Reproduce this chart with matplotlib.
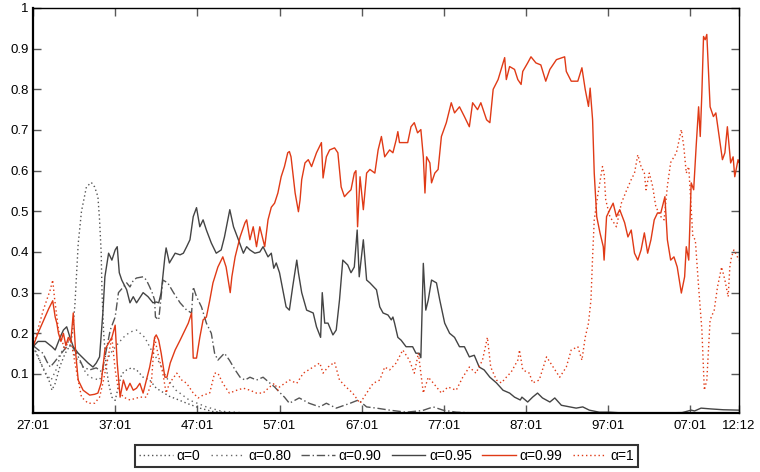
import matplotlib.pyplot as plt

# values (x = year + month fraction)
yr_a0 = [1927.0, 1927.6, 1928.3, 1929.1, 1929.3, 1929.7, 1930.3, 1930.9, 1931.5, 1931.8, 1932.1, 1932.5, 1932.9,
         1933.5, 1934.1, 1934.5, 1934.9, 1935.1, 1935.3, 1935.4, 1935.6, 1935.9, 1936.2, 1936.6, 1937.0, 1937.4,
         1937.8, 1938.4, 1939.0, 1939.6, 1940.4, 1941.2, 1942.0, 1942.8, 1943.6, 1944.5, 1945.7, 1947.3, 1948.8,
         1951.0, 1960.0, 2012.92]
a0 = [0.167, 0.142, 0.11, 0.077, 0.06, 0.077, 0.12, 0.15, 0.17, 0.2, 0.27, 0.42, 0.5,
      0.56, 0.571, 0.56, 0.536, 0.479, 0.397, 0.30, 0.2, 0.12, 0.077, 0.043, 0.035, 0.07,
      0.10, 0.11, 0.115, 0.11, 0.092, 0.085, 0.065, 0.055, 0.045, 0.038, 0.028, 0.016, 0.008,
      0.004, 0.002, 0.002]

yr_a80 = [1927.0, 1927.5, 1928.0, 1928.6, 1929.2, 1929.8, 1930.4, 1931.1, 1931.6, 1932.2, 1932.8, 1933.5, 1934.2,
          1935.1, 1935.7, 1936.4, 1937.4, 1938.0, 1938.8, 1939.6, 1940.6, 1941.4, 1942.4, 1943.2, 1944.4, 1946.0,
          1948.1, 1950.0, 1953.0, 1960.0, 2012.92]
a80 = [0.167, 0.15, 0.125, 0.10, 0.085, 0.11, 0.15, 0.183, 0.17, 0.14, 0.127, 0.10, 0.09,
       0.085, 0.117, 0.15, 0.176, 0.19, 0.203, 0.208, 0.19, 0.159, 0.127, 0.092, 0.06, 0.036,
       0.019, 0.008, 0.004, 0.002, 0.002]

yr_a90 = [1927.0, 1927.6, 1928.2, 1928.7, 1929.1, 1929.6, 1930.3, 1931.1, 1931.7, 1932.3, 1933.1, 1933.9, 1934.7,
          1935.4, 1936.0, 1936.4, 1937.0, 1937.4, 1938.0, 1938.4, 1938.8, 1939.2, 1939.6, 1940.4, 1940.8, 1941.2,
          1941.5, 1941.8, 1941.9, 1942.3, 1942.8, 1943.4, 1944.1, 1944.9, 1945.7, 1946.3, 1946.5, 1946.9, 1947.5,
          1948.1, 1948.7, 1949.1, 1949.5, 1950.3, 1950.9, 1951.6, 1952.2, 1952.8, 1953.4, 1954.2, 1955.0, 1955.8,
          1956.4, 1957.0, 1957.6, 1958.2, 1959.4, 1960.6, 1961.9, 1962.7, 1963.9, 1965.6, 1966.6, 1967.6, 1968.8,
          1970.4, 1972.4, 1974.4, 1975.7, 1976.9, 1978.5, 1981.0, 1990.0, 2012.92]
a90 = [0.17, 0.16, 0.151, 0.13, 0.117, 0.129, 0.147, 0.167, 0.17, 0.151, 0.117, 0.11, 0.115,
       0.105, 0.167, 0.208, 0.24, 0.30, 0.314, 0.324, 0.314, 0.33, 0.336, 0.339, 0.331, 0.314,
       0.30, 0.282, 0.24, 0.233, 0.331, 0.324, 0.30, 0.275, 0.257, 0.25, 0.314, 0.29, 0.265,
       0.225, 0.20, 0.151, 0.134, 0.151, 0.134, 0.11, 0.092, 0.085, 0.092, 0.085, 0.092, 0.078,
       0.068, 0.055, 0.043, 0.028, 0.041, 0.028, 0.019, 0.028, 0.016, 0.028, 0.036, 0.019, 0.016,
       0.011, 0.006, 0.01, 0.019, 0.011, 0.006, 0.004, 0.003, 0.003]

yr_a95 = [1927.0, 1927.6, 1928.5, 1929.3, 1929.7, 1930.3, 1930.7, 1931.1, 1931.5, 1931.9, 1932.5, 1933.1, 1933.7,
          1934.3, 1934.7, 1935.1, 1935.5, 1935.75, 1936.2, 1936.6, 1937.0, 1937.25, 1937.5, 1937.8, 1938.4, 1938.8,
          1939.2, 1939.6, 1940.4, 1941.0, 1941.6, 1942.0, 1942.3, 1942.6, 1943.05, 1943.2, 1943.6, 1944.3, 1944.9,
          1945.3, 1945.7, 1946.1, 1946.5, 1946.9, 1947.3, 1947.7, 1948.1, 1948.7, 1949.3, 1949.9, 1950.3, 1950.7,
          1950.95, 1951.4, 1952.0, 1952.6, 1953.0, 1953.4, 1954.0, 1954.6, 1955.0, 1955.6, 1956.0, 1956.3, 1956.6,
          1957.0, 1957.4, 1957.8, 1958.2, 1958.6, 1959.1, 1959.3, 1959.7, 1960.3, 1961.1, 1961.5, 1962.0, 1962.2,
          1962.5, 1962.9, 1963.5, 1963.9, 1964.3, 1964.7, 1965.3, 1965.7, 1966.1, 1966.45, 1966.7, 1967.2, 1967.6,
          1968.0, 1968.8, 1969.2, 1969.6, 1970.2, 1970.6, 1970.8, 1971.0, 1971.4, 1971.8, 1972.4, 1973.2, 1973.6,
          1974.0, 1974.2, 1974.5, 1974.8, 1975.1, 1975.5, 1976.1, 1976.5, 1977.1, 1977.7, 1978.3, 1978.9, 1979.5,
          1980.1, 1980.7, 1981.3, 1981.9, 1982.6, 1983.4, 1984.2, 1985.0, 1985.6, 1986.3, 1986.5, 1987.2, 1987.8,
          1988.4, 1989.0, 1989.9, 1990.5, 1991.3, 1992.3, 1993.1, 1993.9, 1994.7, 1995.9, 1997.2, 1998.8, 2003.0,
          2006.0, 2007.1, 2007.5, 2008.3, 2009.5, 2011.0, 2012.92]
a95 = [0.167, 0.18, 0.18, 0.167, 0.159, 0.19, 0.208, 0.216, 0.19, 0.167, 0.151, 0.139, 0.127,
       0.117, 0.127, 0.142, 0.25, 0.339, 0.397, 0.38, 0.405, 0.413, 0.349, 0.331, 0.307, 0.275,
       0.29, 0.275, 0.30, 0.29, 0.275, 0.277, 0.275, 0.30, 0.388, 0.41, 0.373, 0.397, 0.393,
       0.397, 0.413, 0.43, 0.487, 0.509, 0.462, 0.479, 0.454, 0.422, 0.397, 0.405, 0.437, 0.479,
       0.504, 0.462, 0.43, 0.397, 0.413, 0.405, 0.397, 0.40, 0.413, 0.388, 0.397, 0.36, 0.373,
       0.349, 0.307, 0.265, 0.257, 0.314, 0.38, 0.349, 0.30, 0.257, 0.25, 0.216, 0.19, 0.30,
       0.225, 0.225, 0.196, 0.208, 0.282, 0.38, 0.368, 0.349, 0.363, 0.454, 0.339, 0.43, 0.331,
       0.324, 0.307, 0.265, 0.25, 0.245, 0.233, 0.24, 0.225, 0.19, 0.183, 0.167, 0.167, 0.151,
       0.151, 0.14, 0.372, 0.257, 0.282, 0.331, 0.324, 0.282, 0.225, 0.20, 0.19, 0.167, 0.167,
       0.142, 0.146, 0.117, 0.11, 0.092, 0.078, 0.06, 0.053, 0.043, 0.036, 0.043, 0.031, 0.043,
       0.053, 0.041, 0.031, 0.041, 0.023, 0.019, 0.016, 0.019, 0.011, 0.006, 0.006, 0.004, 0.004,
       0.005, 0.011, 0.009, 0.016, 0.014, 0.012, 0.011]

yr_a99 = [1927.0, 1927.6, 1928.25, 1928.9, 1929.4, 1929.7, 1929.9, 1930.1, 1930.4, 1930.7, 1931.0, 1931.3, 1931.6,
          1931.9, 1932.2, 1932.5, 1933.1, 1933.9, 1934.5, 1934.9, 1935.3, 1935.75, 1936.2, 1936.6, 1937.0, 1937.25,
          1937.6, 1938.0, 1938.4, 1938.8, 1939.2, 1939.6, 1940.0, 1940.4, 1940.8, 1941.2, 1941.6, 1941.8, 1942.0,
          1942.3, 1942.6, 1943.05, 1943.3, 1943.7, 1944.3, 1944.9, 1945.3, 1945.9, 1946.3, 1946.5, 1946.9, 1947.3,
          1947.7, 1948.1, 1948.5, 1948.9, 1949.5, 1950.1, 1950.5, 1951.0, 1951.2, 1951.6, 1952.2, 1952.8, 1953.0,
          1953.4, 1953.8, 1954.2, 1954.6, 1955.2, 1955.6, 1956.0, 1956.4, 1956.8, 1957.2, 1957.6, 1958.0, 1958.2,
          1958.4, 1958.9, 1959.3, 1959.5, 1959.7, 1960.1, 1960.5, 1960.9, 1961.5, 1962.1, 1962.3, 1962.7, 1963.1,
          1963.7, 1964.1, 1964.5, 1964.9, 1965.3, 1965.7, 1966.1, 1966.3, 1966.5, 1966.8, 1967.2, 1967.6, 1968.0,
          1968.6, 1969.0, 1969.4, 1969.8, 1970.4, 1970.8, 1971.2, 1971.4, 1971.6, 1972.6, 1973.0, 1973.4, 1973.8,
          1974.2, 1974.5, 1974.7, 1974.9, 1975.3, 1975.5, 1975.9, 1976.3, 1976.7, 1977.3, 1977.9, 1978.3, 1978.9,
          1979.5, 1980.1, 1980.5, 1981.1, 1981.5, 1982.2, 1982.6, 1983.0, 1983.6, 1984.4, 1984.6, 1985.0, 1985.6,
          1986.0, 1986.4, 1986.6, 1987.2, 1987.6, 1988.2, 1988.8, 1989.4, 1989.9, 1990.7, 1991.7, 1991.9, 1992.5,
          1993.3, 1993.8, 1994.2, 1994.6, 1994.8, 1995.1, 1995.3, 1995.6, 1996.0, 1996.4, 1996.5, 1996.8, 1997.2,
          1997.6, 1998.0, 1998.4, 1999.0, 1999.4, 1999.8, 2000.2, 2000.6, 2001.0, 2001.4, 2001.8, 2002.2, 2002.6,
          2003.0, 2003.4, 2003.9, 2004.2, 2004.6, 2005.0, 2005.4, 2005.9, 2006.3, 2006.5, 2006.8, 2007.1, 2007.4,
          2007.7, 2008.0, 2008.2, 2008.4, 2008.6, 2008.8, 2009.0, 2009.4, 2009.8, 2010.1, 2010.5, 2010.9, 2011.2,
          2011.5, 2011.9, 2012.2, 2012.4, 2012.8, 2012.92]
a99 = [0.167, 0.20, 0.23, 0.26, 0.28, 0.24, 0.225, 0.20, 0.18, 0.20, 0.17, 0.19, 0.18,
       0.25, 0.15, 0.085, 0.06, 0.048, 0.05, 0.053, 0.078, 0.16, 0.176, 0.19, 0.22, 0.127,
       0.043, 0.085, 0.06, 0.077, 0.06, 0.065, 0.077, 0.053, 0.085, 0.117, 0.16, 0.19, 0.196,
       0.183, 0.151, 0.092, 0.092, 0.127, 0.159, 0.183, 0.20, 0.225, 0.25, 0.139, 0.139, 0.19,
       0.233, 0.24, 0.28, 0.324, 0.363, 0.388, 0.363, 0.30, 0.339, 0.388, 0.437, 0.472, 0.479,
       0.43, 0.462, 0.413, 0.462, 0.413, 0.479, 0.51, 0.52, 0.545, 0.585, 0.61, 0.644, 0.647,
       0.634, 0.545, 0.499, 0.528, 0.578, 0.619, 0.627, 0.61, 0.644, 0.669, 0.582, 0.634, 0.651,
       0.656, 0.644, 0.56, 0.536, 0.545, 0.553, 0.594, 0.60, 0.462, 0.585, 0.504, 0.594, 0.603,
       0.594, 0.651, 0.684, 0.634, 0.651, 0.644, 0.676, 0.696, 0.669, 0.669, 0.708, 0.718, 0.693,
       0.701, 0.634, 0.545, 0.634, 0.619, 0.57, 0.594, 0.603, 0.684, 0.718, 0.767, 0.742, 0.757,
       0.733, 0.708, 0.767, 0.75, 0.767, 0.725, 0.718, 0.80, 0.824, 0.878, 0.824, 0.856, 0.849,
       0.824, 0.812, 0.844, 0.865, 0.88, 0.865, 0.86, 0.82, 0.849, 0.873, 0.88, 0.844, 0.82,
       0.82, 0.853, 0.80, 0.758, 0.803, 0.725, 0.594, 0.487, 0.447, 0.413, 0.38, 0.487, 0.504,
       0.52, 0.487, 0.504, 0.472, 0.437, 0.454, 0.397, 0.38, 0.405, 0.447, 0.397, 0.43, 0.479,
       0.496, 0.496, 0.536, 0.43, 0.38, 0.388, 0.363, 0.299, 0.339, 0.413, 0.38, 0.57, 0.553,
       0.659, 0.757, 0.684, 0.792, 0.93, 0.922, 0.935, 0.757, 0.733, 0.742, 0.684, 0.627, 0.644,
       0.708, 0.619, 0.634, 0.585, 0.627, 0.62]

yr_a1 = [1927.0, 1927.6, 1928.25, 1929.1, 1929.4, 1929.6, 1930.1, 1930.5, 1930.9, 1931.3, 1931.7, 1932.1, 1932.5,
         1932.9, 1933.7, 1934.5, 1935.1, 1935.5, 1936.0, 1936.6, 1937.0, 1937.4, 1938.0, 1938.8, 1940.0, 1940.8,
         1941.4, 1941.8, 1942.2, 1942.8, 1943.2, 1943.6, 1944.5, 1945.1, 1945.7, 1946.5, 1947.1, 1947.7, 1948.5,
         1949.1, 1949.5, 1950.1, 1950.9, 1951.8, 1952.6, 1953.4, 1954.2, 1955.0, 1955.8, 1956.4, 1956.8, 1957.0,
         1958.2, 1959.1, 1959.9, 1961.1, 1961.9, 1962.3, 1962.9, 1963.7, 1964.3, 1965.1, 1965.9, 1966.8, 1967.6,
         1968.4, 1969.2, 1969.8, 1970.4, 1971.2, 1972.0, 1972.8, 1973.4, 1973.9, 1974.5, 1975.1, 1975.7, 1976.7,
         1977.5, 1978.5, 1979.3, 1980.1, 1980.9, 1981.7, 1982.3, 1982.7, 1983.4, 1984.0, 1984.6, 1985.2, 1986.0,
         1986.2, 1986.6, 1987.4, 1987.8, 1988.6, 1989.5, 1990.3, 1991.1, 1991.9, 1992.5, 1993.3, 1993.8, 1994.2,
         1994.6, 1994.9, 1995.1, 1995.3, 1995.7, 1996.3, 1996.5, 1996.7, 1997.2, 1998.0, 1998.6, 1999.2, 1999.8,
         2000.2, 2000.6, 2001.0, 2001.4, 2001.6, 2002.0, 2002.4, 2002.8, 2003.4, 2003.8, 2004.2, 2004.6, 2005.3,
         2005.9, 2006.2, 2006.5, 2006.8, 2007.1, 2007.3, 2007.6, 2008.0, 2008.4, 2008.7, 2009.0, 2009.4, 2009.9,
         2010.3, 2010.8, 2011.2, 2011.6, 2011.8, 2012.0, 2012.3, 2012.92]
a1 = [0.167, 0.21, 0.257, 0.307, 0.331, 0.29, 0.208, 0.183, 0.159, 0.183, 0.176, 0.127, 0.085,
      0.043, 0.028, 0.028, 0.043, 0.077, 0.127, 0.19, 0.11, 0.06, 0.043, 0.036, 0.043, 0.043,
      0.077, 0.19, 0.15, 0.102, 0.053, 0.077, 0.102, 0.085, 0.077, 0.053, 0.041, 0.048, 0.053,
      0.102, 0.102, 0.077, 0.053, 0.06, 0.065, 0.06, 0.053, 0.053, 0.068, 0.077, 0.06, 0.068,
      0.085, 0.077, 0.102, 0.117, 0.127, 0.102, 0.117, 0.129, 0.085, 0.068, 0.053, 0.028, 0.053,
      0.077, 0.085, 0.117, 0.11, 0.127, 0.159, 0.134, 0.102, 0.151, 0.053, 0.092, 0.078, 0.053,
      0.068, 0.06, 0.092, 0.117, 0.102, 0.134, 0.19, 0.117, 0.085, 0.078, 0.092, 0.105, 0.134,
      0.159, 0.11, 0.102, 0.078, 0.085, 0.142, 0.117, 0.092, 0.117, 0.159, 0.167, 0.134, 0.19,
      0.225, 0.282, 0.388, 0.479, 0.536, 0.61, 0.594, 0.528, 0.487, 0.462, 0.52, 0.55, 0.578,
      0.594, 0.639, 0.61, 0.594, 0.553, 0.594, 0.562, 0.511, 0.487, 0.479, 0.562, 0.62, 0.644,
      0.701, 0.659, 0.594, 0.61, 0.504, 0.437, 0.43, 0.314, 0.208, 0.06, 0.085, 0.233, 0.257,
      0.314, 0.363, 0.331, 0.29, 0.363, 0.388, 0.405, 0.38]

tick_pos = [1927, 1937, 1947, 1957, 1967, 1977, 1987, 1997, 2007, 2012 + 11 / 12]
tick_labels = ["27:01", "37:01", "47:01", "57:01", "67:01", "77:01", "87:01", "97:01", "07:01", "12:12"]
y_ticks = [0.1, 0.2, 0.3, 0.4, 0.5, 0.6, 0.7, 0.8, 0.9, 1.0]
y_labels = ["0.1", "0.2", "0.3", "0.4", "0.5", "0.6", "0.7", "0.8", "0.9", "1"]

plt.rcParams['font.family'] = ['Liberation Sans', 'DejaVu Sans']
plt.rcParams['font.size'] = 9

red = '#e03a16'
fig = plt.figure(figsize=(7.6, 4.72), dpi=100)
ax = fig.add_axes([33 / 760, 1 - 413 / 472, 706 / 760, 405 / 472])

ax.plot(yr_a0, a0, color='#555555', lw=1, linestyle=(0, (1, 2)), label='α=0')
ax.plot(yr_a80, a80, color='#666666', lw=1, linestyle=(0, (1, 2.5)), label='α=0.80')
ax.plot(yr_a90, a90, color='#555555', lw=1, linestyle=(0, (6, 2, 1, 2)), label='α=0.90')
ax.plot(yr_a95, a95, color='#444444', lw=1, label='α=0.95')
ax.plot(yr_a99, a99, color=red, lw=1, label='α=0.99')
ax.plot(yr_a1, a1, color=red, lw=1, linestyle=(0, (1, 2)), label='α=1')

ax.set_xlim(1927, 2012 + 11 / 12)
ax.set_ylim(0.004, 1.0)
ax.set_xticks(tick_pos)
ax.set_xticklabels(tick_labels)
ax.set_yticks(y_ticks)
ax.set_yticklabels(y_labels)
ax.tick_params(direction='in', length=6, width=1, color='0.35', top=True, right=True, labelsize=9.5)
ax.tick_params(axis='y', pad=3)
ax.tick_params(axis='x', pad=5)
for side in ['left', 'bottom']:
    ax.spines[side].set_linewidth(1.6)
for side in ['top', 'right']:
    ax.spines[side].set_linewidth(1.0)

# legend box sits under the plot, from x=135 to x=638 px
leg = fig.legend(loc='lower left', bbox_to_anchor=(135 / 760, 5 / 472, 503 / 760, 24 / 472), mode='expand',
                 ncol=6, fontsize=10, frameon=True, fancybox=False, handlelength=2.4, handletextpad=0.3,
                 borderaxespad=0, borderpad=0.3, columnspacing=0.6)
leg.get_frame().set_edgecolor('black')
leg.get_frame().set_linewidth(1.5)

plt.savefig('out.png', dpi=100)
